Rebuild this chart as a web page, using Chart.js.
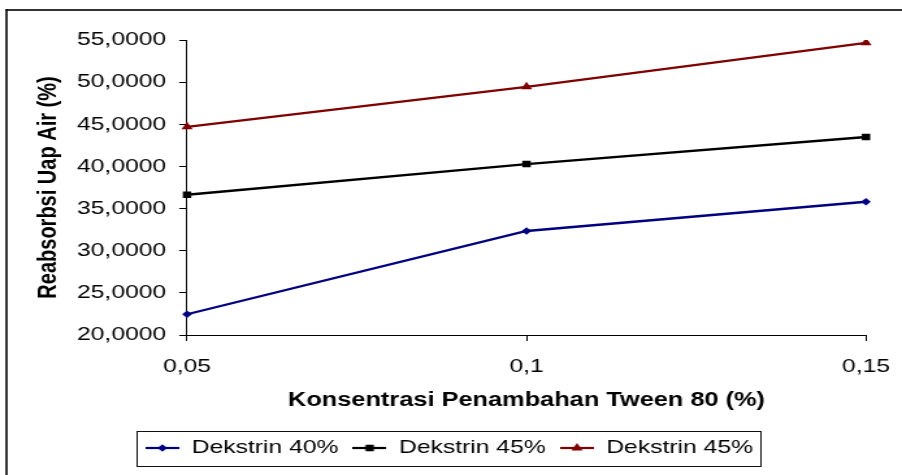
<!DOCTYPE html>
<html>
<head>
<meta charset="utf-8">
<script src="https://cdn.jsdelivr.net/npm/chart.js@4.4.1/dist/chart.umd.min.js"></script>
<style>
  html, body { margin: 0; padding: 0; background: #fff; overflow: hidden; width: 902px; height: 475px; }
  /* the chart is laid out narrow and widened horizontally */
  #wrap { position: absolute; left: 0; top: 0; width: 694px; height: 475px; overflow: hidden;
          transform: scaleX(1.29971); transform-origin: 0 0; }
  canvas { display: block; }
</style>
</head>
<body>
<div id="wrap"><canvas id="chart" width="700" height="475" style="width:700px;height:475px"></canvas></div>
<script>
// Tween 80 concentration (%) on the x axis
const concentrations = ['0,05', '0,1', '0,15'];
// water vapour reabsorption (%) for each dextrin level
const seriesNames = ['Dekstrin 40%', 'Dekstrin 45%', 'Dekstrin 45%'];
const dekstrin40 = [22.46, 32.34, 35.81];
const dekstrin45a = [36.64, 40.28, 43.49];
const dekstrin45b = [44.70, 49.45, 54.67];
const yTicks = [20, 25, 30, 35, 40, 45, 50, 55];

const FONT = "'Liberation Sans', Arial, sans-serif";

function fmtComma(v) {
  return v.toFixed(4).replace('.', ',');
}

// small line-with-marker glyph for the legend
function legendGlyph(color, style, r) {
  const c = document.createElement('canvas');
  c.width = 26; c.height = 12;
  const g = c.getContext('2d');
  g.strokeStyle = color;
  g.lineWidth = 2.2;
  g.beginPath(); g.moveTo(0, 6); g.lineTo(26, 6); g.stroke();
  g.fillStyle = color;
  g.beginPath();
  const x = 13, y = 6;
  if (style === 'rectRot') {
    g.moveTo(x, y - r); g.lineTo(x + r, y); g.lineTo(x, y + r); g.lineTo(x - r, y);
  } else if (style === 'rect') {
    const s = r * Math.SQRT1_2;
    g.rect(x - s, y - s, 2 * s, 2 * s);
  } else {
    g.moveTo(x, y - r);
    g.lineTo(x + r * Math.sin(2 * Math.PI / 3), y - r * Math.cos(2 * Math.PI / 3));
    g.lineTo(x + r * Math.sin(4 * Math.PI / 3), y - r * Math.cos(4 * Math.PI / 3));
  }
  g.closePath();
  g.fill();
  return c;
}

const styles = [
  { color: '#000080', point: 'rectRot', r: 3.8 },
  { color: '#000000', point: 'rect', r: 4.6 },
  { color: '#800000', point: 'triangle', r: 5 }
];
const values = [dekstrin40, dekstrin45a, dekstrin45b];

const datasets = values.map((data, i) => ({
  label: seriesNames[i],
  data: data,
  borderColor: styles[i].color,
  backgroundColor: styles[i].color,
  borderWidth: 2.3,
  pointStyle: styles[i].point,
  pointRadius: styles[i].r,
  pointHoverRadius: styles[i].r,
  pointBorderWidth: 0,
  tension: 0,
  fill: false
}));

// outer frame, legend nudge and the box drawn round the legend
const framePlugin = {
  id: 'frame',
  afterLayout(chart) {
    chart.legend.left += 10;
    chart.legend.right += 10;
  },
  afterDraw(chart) {
    const ctx = chart.ctx;
    ctx.save();
    ctx.fillStyle = '#000';
    // left and top edges of the frame
    ctx.fillRect(4.2, 9.2, 1.6, 470);
    ctx.fillRect(4.2, 9.2, 700, 1.6);
    const boxes = chart.legend.legendHitBoxes;
    if (boxes && boxes.length) {
      const left = Math.min(...boxes.map(b => b.left));
      const right = Math.max(...boxes.map(b => b.left + b.width));
      const cy = boxes[0].top + boxes[0].height / 2;
      ctx.lineWidth = 1;
      ctx.strokeStyle = '#111';
      ctx.strokeRect(Math.round(left - 7) + 0.5, Math.round(cy - 17.5) + 0.5,
                     Math.round(right - left + 13), 35);
    }
    ctx.restore();
  }
};

new Chart(document.getElementById('chart'), {
  type: 'line',
  data: { labels: concentrations, datasets: datasets },
  plugins: [framePlugin],
  options: {
    responsive: false,
    animation: false,
    events: [],
    layout: { padding: { top: 40, right: 33.7, bottom: 7.5, left: 5 } },
    plugins: {
      tooltip: { enabled: false },
      title: { display: false },
      legend: {
        position: 'bottom',
        labels: {
          usePointStyle: true,
          pointStyleWidth: 26,
          padding: 11,
          color: '#000',
          font: { family: FONT, size: 19 },
          generateLabels(chart) {
            return chart.data.datasets.map((ds, i) => ({
              text: ds.label,
              pointStyle: legendGlyph(styles[i].color, styles[i].point, styles[i].r),
              fillStyle: styles[i].color,
              strokeStyle: styles[i].color,
              lineWidth: 0,
              hidden: false,
              datasetIndex: i
            }));
          }
        }
      }
    },
    scales: {
      x: {
        type: 'category',
        offset: false,
        grid: { display: true, drawOnChartArea: false, drawTicks: true, tickLength: 6, color: '#000', offset: false },
        border: { display: true, color: '#000', width: 1 },
        ticks: { color: '#000', padding: 14.5, font: { family: FONT, size: 19 }, maxRotation: 0, autoSkip: false },
        title: {
          display: true,
          text: 'Konsentrasi Penambahan Tween 80 (%)',
          color: '#000',
          font: { family: FONT, size: 19.5, weight: 'bold' },
          padding: { top: 0, bottom: 15.5 }
        },
        afterFit(scale) { scale.height = 92.5; }
      },
      y: {
        min: 20,
        max: 55,
        afterBuildTicks(scale) { scale.ticks = yTicks.map(v => ({ value: v })); },
        grid: { display: true, drawOnChartArea: false, drawTicks: true, tickLength: 6, color: '#000' },
        border: { display: true, color: '#000', width: 1 },
        ticks: {
          color: '#000',
          padding: 10,
          font: { family: FONT, size: 19 },
          callback: v => fmtComma(v)
        },
        title: {
          display: true,
          text: 'Reabsorbsi Uap Air (%)',
          color: '#000',
          font: { family: FONT, size: 20, weight: 'bold' },
          padding: { top: 20, bottom: 0 }
        },
        afterFit(scale) { scale.width = 138.9; }
      }
    }
  }
});
</script>
</body>
</html>
